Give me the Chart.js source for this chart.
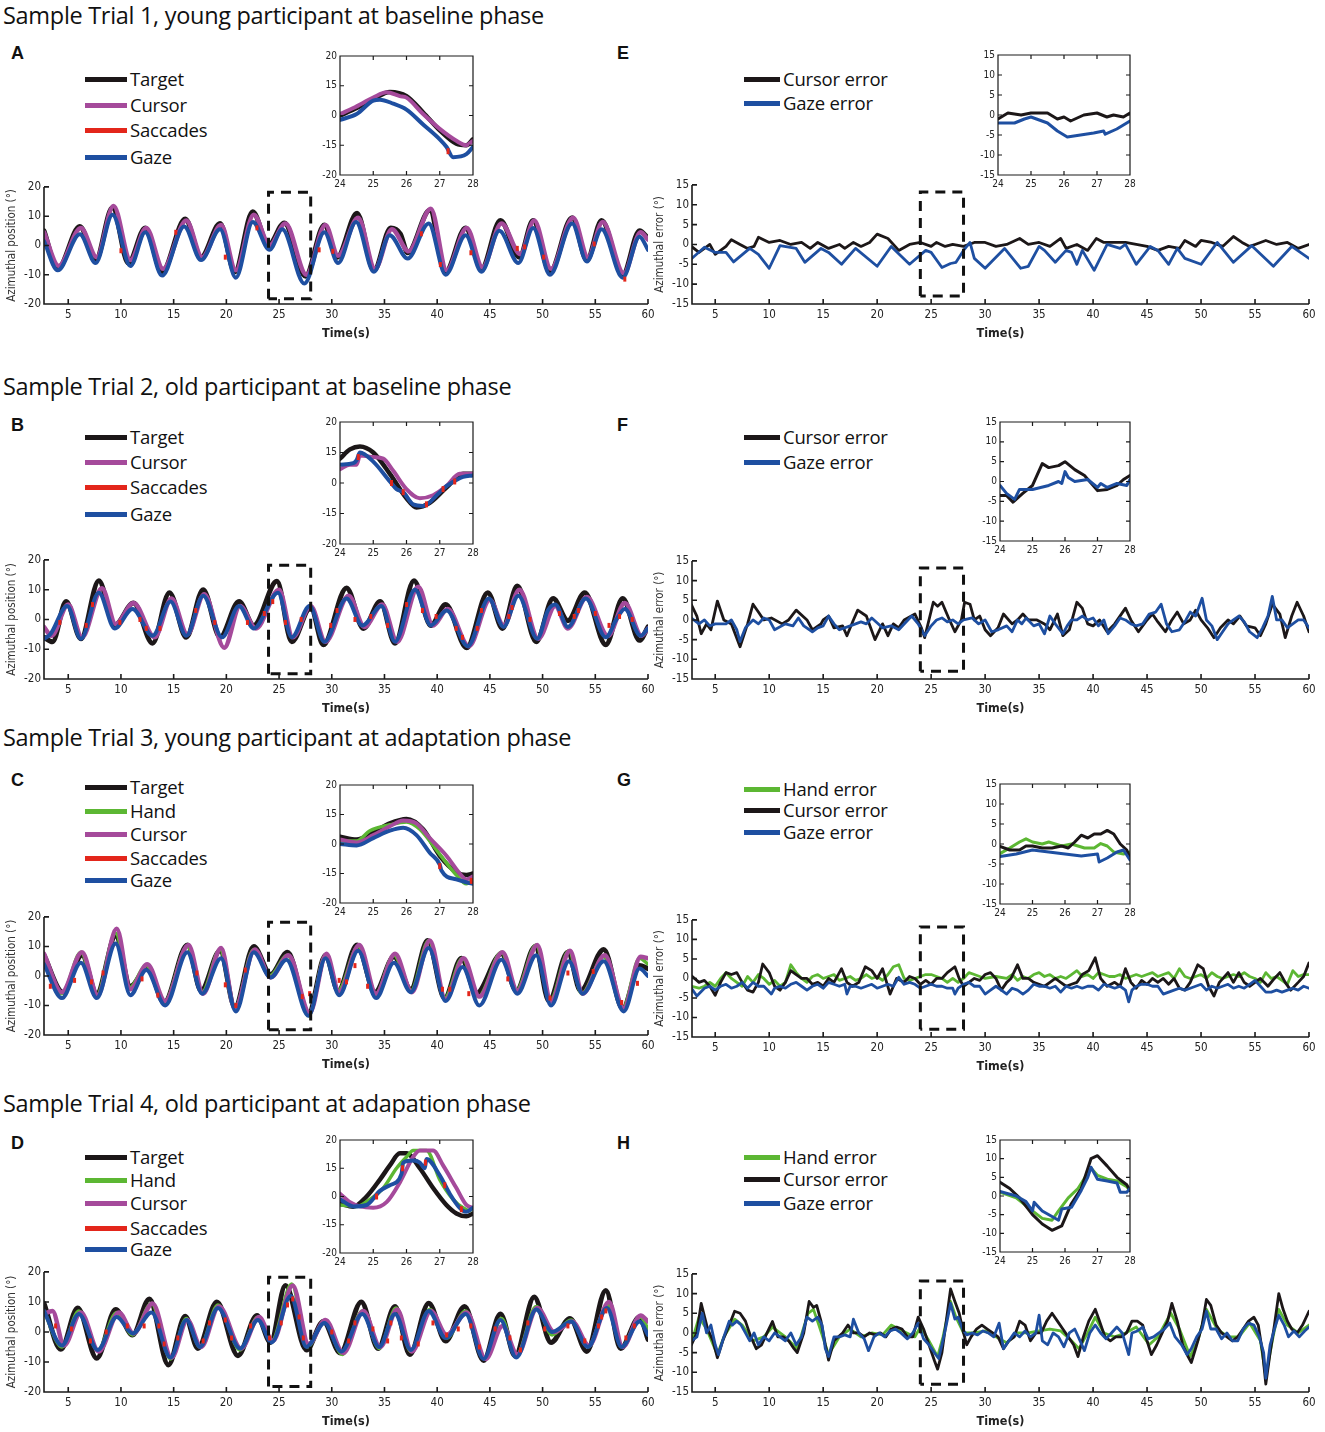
<!DOCTYPE html>
<html>
<head>
<meta charset="utf-8">
<script src="https://cdn.jsdelivr.net/npm/chart.js@4.4.1/dist/chart.umd.min.js"></script>
<style>
  body { margin: 0; background: #fff; }
  #page { position: relative; width: 1325px; height: 1432px; overflow: hidden; font-family: 'Open Sans', sans-serif; color: #111; }
  .t { position: absolute; white-space: nowrap; }
  .title { font-size: 23.5px; line-height: 30px; left: 3px; letter-spacing: -0.3px; }
  .letter { font-family: 'Liberation Sans', Arial, sans-serif; font-weight: bold; font-size: 18px; line-height: 20px; }
  .lg { font-size: 18.5px; line-height: 24px; letter-spacing: -0.2px; }
  .sw { position: absolute; height: 5px; }
  .box { position: absolute; }
</style>
</head>
<body>
<div id="page"></div>
<script>
// ---- axis ticks ----
const X_TICKS_MAIN = [5, 10, 15, 20, 25, 30, 35, 40, 45, 50, 55, 60];
const Y_TICKS_POS = [-20, -10, 0, 10, 20];
const Y_TICKS_ERR = [-15, -10, -5, 0, 5, 10, 15];
const X_TICKS_INSET = [24, 25, 26, 27, 28];
const INSET_POS_TICKS = [-20, -10, 0, 10, 20];
const INSET_POS_LABELS = ['-20', '-15', '0', '15', '20'];

const TITLES = [
  'Sample Trial 1, young participant at baseline phase',
  'Sample Trial 2, old participant at baseline phase',
  'Sample Trial 3, young participant at adaptation phase',
  'Sample Trial 4, old participant at adapation phase'
];
const LEG_POS4 = ['Target', 'Cursor', 'Saccades', 'Gaze'];
const LEG_POS5 = ['Target', 'Hand', 'Cursor', 'Saccades', 'Gaze'];
const LEG_ERR2 = ['Cursor error', 'Gaze error'];
const LEG_ERR3 = ['Hand error', 'Cursor error', 'Gaze error'];

// dashed zoom window
const ZOOM_BOX_POS = [[24, -18.2], [24, 18.2], [28, 18.2], [28, -18.2], [24, -18.2]];
const ZOOM_BOX_ERR = [[24, -13], [24, 13.2], [28, 13.2], [28, -13], [24, -13]];

// ---- panel A ----
const A_TARGET = [[2.7,5],[4,-8],[6.1,6.5],[7.6,-5],[9.2,13],[10.7,-6],[12.3,6],[13.9,-9],[16.1,9],[17.6,-4],[19.4,7.5],[20.8,-9],[22.5,11.5],[24,0],[25.5,7.7],[27.5,-10.5],[29.3,7],[30.5,-4],[32.4,11],[34,-8.5],[35.6,6],[36.5,4],[37.2,-2.5],[39.3,12],[40.8,-9],[42.7,6],[44.2,-8],[46,8.5],[47.8,-4],[49.1,8.5],[50.7,-9],[52.8,9.5],[54.2,-5],[55.6,8.5],[57.6,-10],[59.2,5],[60,2.5]];
const A_CURSOR = [[2.7,4.5],[4.1,-7],[6.2,6],[7.7,-4],[9.3,13.5],[10.9,-5],[12.4,6],[14,-8],[16.2,8.5],[17.7,-4],[19.5,7],[20.9,-8.5],[22.6,10.5],[24.1,0],[25.6,7.5],[27.6,-10],[29.4,7],[30.6,-3.5],[32.5,9.5],[34.1,-8],[35.7,5.5],[37.3,-2],[39.4,12.5],[40.9,-8.5],[42.8,6],[44.3,-7.5],[46.1,7.5],[47.9,-3],[49.2,8.5],[50.8,-8],[52.9,9.5],[54.3,-4],[55.7,8],[57.7,-9.5],[59.3,4.5],[60,2]];
const A_GAZE = [[2.7,1.5],[4,-8.5],[6.1,3.8],[7.6,-6],[9.2,10.5],[10.9,-7],[12.3,4.5],[13.9,-10.3],[16,6.5],[17.6,-5],[19.4,5.5],[20.9,-11],[22.5,8],[24.1,-1.5],[25.3,5.5],[27.4,-13],[29.3,4.5],[30.6,-6],[32.3,8],[34,-9],[35.5,3.5],[37.2,-4.5],[39.2,7.5],[40.8,-10],[42.7,3.5],[44.2,-9],[45.9,5],[47.7,-6],[49.1,6],[50.7,-10],[52.8,7.5],[54.2,-5.5],[55.6,5.5],[57.6,-11],[59.2,3],[60,-1.5]];
const A_SACC = [[10,-1.8],[15.2,4.5],[19.9,-4],[22.9,6],[28.8,-1.5],[30.1,-2],[38.5,4],[40.3,-6.5],[43.2,-2.5],[47.6,-1],[48.3,-0.5],[50.1,-4],[54.9,0.5],[57.8,-11.5]];
const A_IN_TARGET = [[24,0],[24.5,2.5],[25,5.5],[25.5,7.9],[26,6.5],[26.5,1],[27,-5],[27.5,-9.5],[27.8,-10],[28,-8]];
const A_IN_CURSOR = [[24,0.5],[24.4,2.5],[25,6],[25.4,7.8],[25.8,6.5],[26,6],[26.5,0.5],[27,-4.5],[27.5,-8.5],[27.8,-10],[28,-8.5]];
const A_IN_GAZE = [[24,-1.5],[24.5,0.5],[25,5],[25.2,5.3],[25.6,4],[26,2],[26.5,-3],[27,-8],[27.2,-10.5],[27.4,-14],[27.8,-13],[28,-10.5]];
const A_IN_SACC = [[27.25,-12]];

// ---- panel E ----
const E_CURSOR = [[2.8,-0.5],[3.5,-2],[4.5,0],[5,-2.5],[6,-0.5],[6.5,1.2],[7.3,0],[8,-1],[8.6,-0.5],[9,1.8],[10,0.5],[11,1],[12,0],[13,0.5],[13.8,-1],[14.5,0.5],[15.5,-1],[16.5,0],[17,-1],[17.8,0.5],[18.5,-0.5],[19.3,0.5],[20,2.6],[21,1.5],[22,-1.5],[23,0],[24,0.5],[25,-0.5],[25.5,0.5],[26.3,-0.5],[27,0],[28,-0.5],[29,0.5],[30,0.5],[31,-0.5],[32,0],[33.2,1.5],[34,0],[35,0.5],[36,-0.5],[37,1.5],[37.5,-1],[38.5,0],[39.5,-1.5],[40.3,1.5],[41,0.5],[42,0.5],[43,0.5],[44,0],[45,-0.5],[46,-1.5],[47,-0.5],[48,-1],[48.5,1],[49.5,-0.5],[50,1],[51,0.5],[52,-0.5],[53,2],[53.8,0.5],[54.5,-0.5],[55,0],[56,1],[57,0],[58,0.5],[59,-1],[60,0]];
const E_GAZE = [[2.8,-3.6],[4,-0.7],[5,-2],[6,-2],[6.7,-4.4],[8.2,-1],[9,-2.5],[10,-6],[11,-0.3],[12.5,-1],[13.3,-4.5],[14.8,-1],[15.5,-2],[16.7,-5],[18,-1],[20,-5.5],[21.3,-0.5],[23,-5],[24.5,-1.5],[25,-2],[26,-5.8],[26.8,-4.8],[27.3,-4.5],[28,-1.5],[28.6,0.5],[29,-3.5],[30,-6],[31.8,-1],[33.3,-6],[34,-5.5],[35,-0.5],[35.5,-1.5],[36.5,-4.5],[37.5,-1.5],[38,-2],[38.5,-5],[39,-1.5],[40.1,-6.5],[41.3,0],[42.5,-1],[43,0],[44,-5],[45.3,-0.5],[46,-1.5],[47,-5],[47.8,-1],[48.5,-3.5],[50,-5],[51.5,0.5],[53,-4.5],[54.7,-0.3],[56.7,-5.5],[58.4,-0.5],[60,-3.5]];
const E_IN_CURSOR = [[24,-1],[24.3,0.5],[24.7,0],[25,0.5],[25.5,0.5],[25.8,-1],[26,-0.5],[26.2,-1.5],[26.6,0],[27,0.5],[27.3,-0.5],[27.5,0],[27.8,-0.5],[28,0.5]];
const E_IN_GAZE = [[24,-2],[24.5,-2],[24.8,-1],[25,-0.5],[25.5,-2],[25.8,-4],[26.1,-5.5],[26.5,-5],[26.9,-4.5],[27.2,-4],[27.25,-4.8],[27.6,-3.5],[28,-1.5]];

// ---- panel B ----
const B_TARGET = [[2.7,-6],[3.5,-7.5],[4.8,6],[6.2,-6.5],[7.9,13],[9.4,-2],[11.2,5.5],[13,-8],[14.6,9],[16.2,-6],[17.8,10],[19.4,-6],[21.2,6],[22.6,-2],[24.8,12.8],[26.2,-7.5],[28,4],[29.2,-8.5],[31.4,10.6],[33,-3],[34.6,6],[36,-8],[37.8,13],[39.4,-2],[40.8,5],[42.8,-9.5],[44.8,9],[46.2,-3],[47.6,11.2],[49.4,-7.5],[51,7],[52.4,-0.4],[54,9],[56,-8.5],[57.6,7],[59.2,-7],[60,-2.5]];
const B_CURSOR = [[2.7,-2.5],[3.4,-5.5],[5,5],[6.3,-6],[8.2,10.5],[9.5,-1.5],[11.2,5.5],[13.2,-6],[14.8,7],[16.3,-5],[17.9,8.5],[19.8,-9.5],[21.3,4.5],[22.8,-3],[25,10],[26.3,-6],[28,4.5],[29.4,-7.5],[31.6,8],[33.1,-2.5],[34.8,5],[36.2,-7.5],[38.2,11],[39.6,-2],[41,3.5],[43,-9],[45,6.5],[46.3,-2],[47.8,10],[49.6,-6.5],[51.2,4.5],[52.4,-3],[54.2,7.5],[56.2,-5.5],[57.8,5.5],[59.4,-5.5],[60,-3]];
const B_GAZE = [[2.7,-6.5],[3.3,-5],[4.9,4.5],[6.2,-6.5],[7.9,9],[9.4,-3],[11.1,3.5],[13,-5.5],[14.7,6],[16.2,-5.5],[17.8,8],[19.6,-6],[21.2,4.5],[22.6,-3],[24.9,9],[26.2,-6],[27.9,4.5],[29.3,-7.5],[31.4,7],[32.9,-2],[34.7,4.5],[36,-7.5],[37.9,10],[39.4,-2],[40.9,3],[42.9,-9],[44.9,7],[46.3,-2.5],[47.7,8],[49.5,-6.5],[50.5,3],[51.2,5],[52.4,-2.5],[54.1,7],[56,-6],[57,0],[57.8,3.5],[59.3,-5.5],[60,-3]];
const B_SACC = [[4.2,-1],[6.7,-2],[7.3,5],[9.9,-1],[11.8,0],[12.4,-3],[13.7,-3],[17.1,3],[18.9,-1],[22,-1],[23.6,2],[24.4,6],[25.6,-1],[27.1,0],[29.9,-2],[30.5,3],[32.2,0],[33.7,1],[35.3,-2],[37.1,5],[38.6,3],[39.9,1],[41.8,-3],[42.4,-6],[43.8,-3],[44.2,3],[46.8,1],[47.1,4],[48.8,0],[51.6,2],[53,1],[53.4,3],[55,2],[56.3,-2],[57.3,1],[58.5,0]];
const B_IN_TARGET = [[24,8],[24.3,11],[24.6,12],[25,10],[25.5,3],[26,-5],[26.3,-8],[26.7,-6.5],[27.2,-1.5],[27.7,3],[28,3]];
const B_IN_CURSOR = [[24,4.5],[24.3,6],[24.5,6],[24.6,9],[25,8.5],[25.3,8],[25.6,4],[26,-2],[26.4,-5],[26.8,-4],[27.2,-1],[27.6,3],[28,3]];
const B_IN_GAZE = [[24,6],[24.4,6.5],[24.5,7.5],[24.6,10],[25,7],[25.5,0.5],[25.7,-2],[25.9,-3],[26.2,-7],[26.5,-7.5],[27,-3],[27.2,-1],[27.5,1],[27.7,2],[28,2.5]];
const B_IN_SACC = [[24.55,8.5],[25.55,0],[25.9,-3],[26.6,-7],[27.1,-2],[27.45,0.5]];

// ---- panel F ----
const F_CURSOR = [[2.8,3.8],[3.3,1],[3.7,-3.5],[4.2,-1],[4.6,-2.5],[5.2,4.8],[5.8,0],[6.5,-1],[7.3,-6.8],[8,-1],[8.5,4],[9,2],[9.5,0],[10.2,0.5],[11.2,-1],[11.8,0],[12.5,2.5],[13.5,0],[14,-2.5],[14.8,-1],[15,0],[15.5,1],[16,-2],[16.8,-1.5],[17.2,-4],[17.8,0],[18.2,2.5],[19,1],[19.8,-5],[20.5,-1],[21,-4],[21.5,-1],[22,-2],[22.5,0],[23.5,1.5],[24.1,-2],[24.4,-4.5],[25.2,4.5],[25.6,3.5],[26,4.5],[26.7,0],[27.2,-3],[27.8,0],[28.1,4.5],[28.6,4],[29,0],[29.5,1],[30,-2.5],[30.5,-4],[31.2,-2],[31.7,1.5],[32.5,-1],[33,0],[33.5,1.5],[34,0],[34.8,0],[35.5,-1],[36,-2.5],[36.7,1.5],[37.2,-4],[37.8,-2.5],[38.5,4.5],[39,3],[39.5,-1],[40,-1.5],[40.6,0],[41.3,-3],[42,-1],[43,3],[43.5,0],[44.2,-3],[45,0],[45.5,1.5],[46,-0.5],[46.7,-3],[47.3,0],[47.8,2],[48.4,-1],[49,0],[49.5,2.5],[50,0],[50.6,-2],[51.2,-4.5],[51.8,-2],[52.5,0],[53,-1],[53.6,1],[54.2,-1.5],[55,-2],[55.5,-4],[56,-1],[56.6,4],[57.3,1.5],[57.8,-4.5],[58.4,1],[58.9,4.5],[59.5,1],[60,-3]];
const F_GAZE = [[2.8,0.5],[3.5,-1],[4,0],[4.5,-1.5],[5,-1],[6,-1],[6.5,0],[7,-2.5],[7.3,-5.5],[7.8,-2],[8.5,0],[9,-1],[9.5,0.5],[10,0],[10.5,-2.5],[11.5,-1],[12.2,-1.5],[12.7,0.5],[13.2,-1.5],[14,-3],[14.5,-2],[15,-1.5],[15.5,1],[16,-1],[16.5,-2.5],[17.5,-1.5],[18.5,-0.5],[19,-1],[19.5,0.5],[20.5,-2],[21.3,-1.5],[22,-2.5],[23.2,1],[23.8,-1],[24.4,-4],[25,-1.5],[25.5,0],[26,0.5],[26.5,-0.5],[27,0],[27.5,-1],[28,0],[28.8,0.5],[29.4,-1],[30,0],[30.6,-3],[31.2,-2.5],[32,-1.5],[32.5,-3],[33,0],[33.4,-1],[33.8,0.5],[34.5,-1.5],[35,-1],[35.5,-3.5],[36,1],[36.5,-1],[37.2,-3.5],[37.6,-1.5],[38,0],[38.5,0],[39,1],[39.5,0],[40,0.5],[40.5,-1.5],[41,0],[41.4,-3.5],[42,-1.5],[42.5,0.5],[43,0],[43.5,-1],[44,-1.5],[44.6,-1],[45.2,1.5],[45.8,2],[46.3,4],[46.8,-1],[47.3,-3],[48,-2.5],[48.6,0],[49,2],[49.5,1],[50.1,5.5],[50.5,0],[51,-1.5],[51.5,-5],[52,-3],[52.5,-1],[53,0],[53.5,1],[54,-0.5],[54.5,-3],[55.2,-4.5],[55.7,-2],[56.2,1],[56.6,6],[57,0],[57.5,0],[58,-2],[58.5,-1],[59,0],[59.5,0],[60,-2]];
const F_IN_CURSOR = [[24,-3.5],[24.2,-3.5],[24.4,-5.2],[24.7,-3],[25,-1],[25.3,4.5],[25.5,3.5],[25.8,4],[26,5],[26.3,3],[26.6,1.5],[27,-2.3],[27.3,-2],[27.6,-1],[27.8,0.5],[28,1.5]];
const F_IN_GAZE = [[24,-1],[24.2,-3],[24.45,-4.5],[24.6,-2],[25,-2],[25.5,-1],[25.8,0],[25.9,-0.5],[26,2.5],[26.1,1],[26.3,0],[26.7,0.5],[27,-1.5],[27.1,-0.5],[27.3,-1.5],[27.6,-0.5],[27.9,-1],[28,0.5]];

// ---- panel C ----
const C_TARGET = [[2.7,7],[4.5,-5.5],[6.3,7],[7.7,-6],[9.5,13.5],[10.9,-3.5],[12.5,3],[14.1,-9],[16.3,10.5],[17.6,-5],[19.4,8.5],[20.8,-10.5],[22.6,10],[24.2,0.5],[25.8,8],[27.8,-12.5],[29.4,7],[30.6,-5],[32.4,10.5],[34.1,-5.5],[35.9,6.5],[37.5,-4.5],[39.1,12],[40.7,-7.5],[42.3,6],[43.7,-6],[46.1,7.5],[47.5,-5],[49.3,10],[50.6,-8.5],[52.4,8],[53.6,-5],[55.8,9],[57.6,-11],[59.2,3.5],[60,2.5]];
const C_HAND = [[2.7,6],[4.4,-6],[6.2,8],[7.7,-6.5],[9.5,14.5],[10.8,-4],[12.4,3.5],[14.1,-9],[16.3,10],[17.7,-5.5],[19.4,9],[20.8,-11],[22.6,9],[24.1,0],[25.8,7],[27.8,-13.5],[29.4,7],[30.6,-5],[32.5,10],[34.1,-6.5],[35.9,7],[37.5,-5],[39.2,12],[40.7,-7.5],[42.4,6],[43.9,-7],[46.1,8],[47.5,-5],[49.4,10.5],[50.7,-8.5],[52.5,8.5],[53.7,-6],[55.8,6.5],[57.6,-11],[59.2,6],[60,4]];
const C_CURSOR = [[2.7,7.5],[4.4,-5.5],[6.3,8],[7.8,-6.5],[9.6,16],[10.9,-4.5],[12.5,4],[14.2,-8.5],[16.4,10.5],[17.8,-6],[19.5,9.5],[20.8,-11],[22.7,9],[24.2,-0.5],[25.9,7],[27.9,-12.5],[29.5,7.5],[30.7,-5.5],[32.6,10.5],[34.2,-6],[36,7.5],[37.6,-5.5],[39.3,12],[40.8,-8],[42.5,6],[44,-7],[46.2,8],[47.6,-5],[49.5,10.5],[50.8,-8.5],[52.6,8.5],[53.8,-6],[55.9,7],[57.7,-11],[59.3,6.5],[60,6]];
const C_GAZE = [[2.7,4],[4.4,-7.5],[6.2,4.5],[7.7,-7.5],[9.5,11],[10.9,-6.5],[12.4,2],[14.2,-10],[16.3,8],[17.7,-6],[19.5,6],[20.9,-12],[22.6,8],[24.2,-0.5],[25.7,5.5],[27.8,-13.5],[29.4,6],[30.7,-6.5],[32.5,8.5],[34.2,-7.5],[35.9,4.5],[37.5,-5.5],[39.2,9.5],[40.8,-8.5],[42.4,3],[44,-10],[46.1,5.5],[47.6,-6],[49.4,7],[50.8,-10],[52.5,5],[53.8,-6],[55.8,5],[57.7,-12],[59.2,2.5],[60,0]];
const C_SACC = [[3.3,-3.5],[5.6,-1.5],[7.2,-2],[8.3,1],[12,-1],[13.5,-6.5],[17.2,1],[19.9,-3],[20.9,-10],[21.8,2],[27.2,-7],[27.9,-6],[30.7,-1.5],[31.4,-2],[32.2,3.5],[33.4,-3.5],[40.5,-4.5],[41.2,-4.5],[43,-6],[46.7,-1],[50.7,-7.5],[52.4,1],[54.8,1.5],[57.5,-9],[59,-2.5]];
const C_IN_TARGET = [[24,2.5],[24.5,1.5],[25,4],[25.5,7],[26,8.5],[26.5,5],[27,-4],[27.5,-9.5],[27.8,-10.5],[28,-10]];
const C_IN_HAND = [[24,1],[24.5,1],[24.9,4.5],[25.5,6.5],[26,7.5],[26.4,5],[27,-3.5],[27.5,-10.5],[27.8,-13.5],[28,-12]];
const C_IN_CURSOR = [[24,1.5],[24.5,0.5],[25,3],[25.5,6],[25.9,8],[26.3,7],[26.7,2],[27.2,-4],[27.6,-10],[27.8,-12],[28,-11]];
const C_IN_GAZE = [[24,0],[24.5,-0.5],[25,2],[25.5,4.5],[25.9,5.5],[26.3,3],[26.7,-3],[27,-7],[27.05,-9],[27.5,-12],[27.8,-13],[28,-13.5]];
const C_IN_SACC = [[27,-7.5],[27.95,-12.5]];

// ---- panel G ----
const G_HAND = [[2.8,-2],[3.5,-2.5],[4,-2],[4.5,-1],[5,-2],[5.5,0],[6,1.5],[6.5,0],[7,-1],[7.5,-2],[8,0.5],[8.5,-1],[9,1],[9.5,0],[10,-1.5],[10.5,-0.5],[11,-2],[11.5,-1],[12,3.5],[12.5,1.5],[13,0],[13.5,-1],[14,0.5],[14.5,1],[15,0],[15.5,0.5],[16,1],[16.5,-0.5],[17,0],[17.5,0.5],[18,-0.5],[18.5,0],[19,1],[19.5,0],[20,0.5],[20.5,-0.5],[21,1],[21.5,3],[22,3.5],[22.5,0],[23,-0.5],[23.5,0],[24,0.5],[24.5,1],[25,1],[25.5,0.5],[26,0],[26.5,-1],[27,0],[27.5,-1],[28,0],[28.5,1.5],[29,1],[29.5,0.5],[30,0],[31,0.5],[32,0],[32.5,1],[33,-0.5],[33.5,0.5],[34,0],[34.5,1],[35,1.5],[35.5,0.5],[36,1],[36.5,0],[37,0.5],[37.5,0],[38,1],[38.5,2],[39,0.5],[39.5,1],[40,0],[40.5,1.5],[41,1],[41.5,0.5],[42,0.5],[42.5,1],[43,0],[43.5,0.5],[44,1],[44.5,0.5],[45,1],[45.5,1.5],[46,0.5],[46.5,1],[47,1.5],[47.5,0],[48,2.5],[48.5,0.5],[49,0],[49.5,0.5],[50,1],[50.5,0],[51,1.5],[51.5,0.5],[52,0],[53,1],[53.5,0.5],[54,1.5],[54.5,0.5],[55,0],[55.5,-1],[56,1.5],[56.5,0],[57,0.5],[57.5,-0.5],[58,-1.5],[58.5,2],[59,0.5],[59.5,1],[60,1]];
const G_CURSOR = [[2.8,0.7],[3.5,-1],[4,-0.5],[4.5,-2],[5,-4.3],[5.5,-1],[6,1.5],[6.5,1],[7,1.5],[7.5,-1],[8,-3],[8.5,-3.5],[9,-1],[9.4,3.7],[10,1.5],[10.5,-2],[11,-3],[11.5,-1],[12,2],[12.5,1],[13,0],[13.5,0],[14,-1.5],[14.5,-1],[15,-2],[15.5,0],[16,-1],[16.7,2.5],[17.2,-1],[17.7,-2],[18.3,-1],[18.9,3],[19.5,2],[20,0],[20.5,2.5],[21.2,-4],[21.8,0],[22.5,-1],[23,0.5],[23.5,0],[24,-1.5],[24.5,-0.5],[25,-1.5],[25.5,0],[26,0],[26.5,1.5],[27.2,3],[27.6,0],[28,-2],[28.5,-1],[29,0],[29.5,-0.5],[30,1],[30.5,1.5],[31,0],[31.5,-3],[32,-1],[32.4,0],[33,3.5],[33.5,0],[34,0],[34.5,-1],[35,-1.5],[35.5,-2],[36,-1],[36.5,0],[37,-1],[37.5,-2],[38,-1.5],[38.5,-1],[39,1],[39.6,2],[40.2,5.3],[40.7,0],[41.3,-2],[42,-1],[42.5,-2],[43,2.5],[43.5,-1],[44,-2.5],[44.5,-0.5],[45,-1.5],[45.5,0],[46,-1],[46.5,0],[47,-1.5],[47.5,0],[48,-2.5],[48.5,-3],[49,-1],[49.7,3.5],[50.2,2.5],[50.7,-2],[51.2,-4.5],[51.7,-1],[52.5,1.5],[53,-1],[53.5,1.5],[54,-1],[54.5,-2],[55,-1],[55.5,0],[56.2,-2],[56.8,0],[57.3,1.5],[57.8,-1],[58.3,-3],[59,-1],[59.5,0.5],[60,4]];
const G_GAZE = [[2.8,-2.5],[3.3,-4.5],[4,-2.5],[4.5,-2],[5,-3],[5.5,-2],[6,-1.5],[6.5,-2.5],[7,-2],[7.5,-1],[8,-2.5],[8.5,-1],[9,-2],[9.5,-2],[10.2,-4],[10.5,-2.5],[11,-2],[11.5,-2.5],[12,-1.5],[12.5,-1],[13,-2],[13.5,-3],[14,-2],[14.5,-1.5],[15,-2.5],[15.5,-1],[16,-1.5],[16.5,-2],[17,-1.5],[17.2,-4],[17.5,-2],[18,-2],[18.5,-2.5],[19,-2],[19.5,-1.5],[20,-2.5],[20.5,-2],[21,-1.5],[21.5,-2],[22,0.3],[22.5,-1.5],[23,-1],[23.5,-1.5],[24,-2.5],[24.5,-2],[25,-1.5],[25.5,-2],[26,-2],[26.5,-2.5],[27,-2.5],[27.2,-4],[27.5,-2.5],[28,-1.5],[28.5,-1],[29,-2],[29.5,-2],[30,-4],[30.5,-3],[31,-2],[31.5,-3],[32,-4],[32.5,-2.5],[33,-3],[33.5,-4],[34,-3],[34.5,-1.5],[35,-2],[35.5,-2],[36,-2.5],[36.5,-2],[37,-3.5],[37.5,-2],[38,-2.5],[38.5,-2],[39,-2.5],[39.5,-2],[40,-2],[40.5,-3],[41,-1.5],[41.5,-2],[42,-2.5],[42.5,-2],[43,-3],[43.3,-6],[43.6,-3],[44,-2],[44.5,-1.5],[45,-1.5],[45.5,-2],[46,-2],[46.5,-4],[47,-3.5],[47.5,-3],[48,-2.5],[48.5,-3],[49,-2.5],[49.5,-2],[50,-1.5],[50.5,-3],[51,-2],[51.5,-2.5],[52,-2],[52.5,-1.5],[53,-2.5],[53.5,-2],[54,-2.5],[54.5,-1.5],[55,-0.5],[55.5,-2],[56,-3.5],[56.5,-3.5],[57,-3],[57.5,-3.5],[58,-3],[58.5,-2.5],[59,-3],[59.5,-2],[60,-2.5]];
const G_IN_HAND = [[24,-2.4],[24.3,-1],[24.6,0.5],[24.8,1.3],[25,0.5],[25.3,0],[25.5,0.5],[25.7,0],[25.9,-0.5],[26.2,0],[26.4,-0.5],[26.6,-1],[26.9,-1],[27.1,0.1],[27.3,-0.5],[27.5,-2],[27.8,-2.5],[28,-2]];
const G_IN_CURSOR = [[24,-0.6],[24.3,-1.5],[24.6,-1.5],[24.8,-0.5],[25,-0.5],[25.3,-1],[25.6,-1],[25.9,-0.5],[26.1,-1],[26.3,0.5],[26.5,2.2],[26.7,1.5],[26.9,2.5],[27.1,2.5],[27.3,3.4],[27.5,2.5],[27.7,0],[27.9,-1.5],[28,-3.5]];
const G_IN_GAZE = [[24,-3.1],[24.5,-2.5],[25,-1.5],[25.5,-2],[26,-2.5],[26.5,-3],[27,-2.5],[27.05,-4.5],[27.3,-3.5],[27.6,-2],[27.8,-1.5],[28,-4]];

// ---- panel D ----
const D_TARGET = [[2.7,9.5],[4.3,-5.8],[5.9,8],[7.7,-8.8],[9.5,7.5],[11.1,-1],[12.7,11],[14.5,-11],[16.1,5.2],[17.3,-5.5],[19.1,10],[21.1,-7.9],[22.9,5.5],[24.2,-3.5],[25.6,15.5],[27.6,-6],[29.2,3.5],[30.8,-7],[32.8,10],[34.4,-5.5],[36,8.5],[37.4,-7.5],[39.2,9.6],[40.8,-3],[42.6,8.5],[44.4,-9.5],[46,6],[47.4,-8],[49.2,11.6],[50.8,-3.5],[52.6,4.5],[54.2,-6.5],[56,13.8],[57.4,-5.5],[59.2,5],[60,-2.5]];
const D_HAND = [[2.7,7],[4.4,-5],[6,7],[7.8,-6],[9.6,6.5],[11.1,-1],[12.9,9.5],[14.7,-9],[16.2,4.5],[17.5,-5],[19.2,9],[21.3,-6],[23,5],[24.3,-3],[26.2,16],[27.7,-5],[29.3,3.5],[31,-7.5],[32.9,7],[34.5,-5.5],[36.1,8],[37.5,-6.5],[39.3,7.5],[40.9,-2],[42.7,7],[44.5,-9],[46.1,4.5],[47.5,-8],[49.4,8.5],[50.9,-1],[52.7,4],[54.3,-5],[56.2,9],[57.5,-5],[59.3,5],[60,1]];
const D_CURSOR = [[2.7,6],[3.5,7],[4.6,-4.5],[6.2,6.5],[7.9,-6.5],[9.8,6.5],[11.2,-0.5],[13,9.5],[14.8,-8.5],[16.3,4],[17.6,-5],[19.3,8.5],[21.4,-5.5],[23.1,5],[24.4,-3],[26.3,15.5],[27.8,-4],[29.4,4],[31.1,-7],[33,7],[34.6,-5],[36.2,7.5],[37.6,-6.5],[39.4,7],[40.9,-1],[42.8,6.5],[44.6,-9],[46.2,2],[47.6,-7.5],[49.5,8],[51.1,0],[52.8,3.5],[54.4,-4.5],[56.3,10],[57.6,-5],[59.3,5.5],[60,3.5]];
const D_GAZE = [[2.7,7],[4.4,-4.5],[6,6],[7.8,-6],[9.6,5],[11.1,-0.5],[12.9,6.5],[14.7,-8.5],[16.2,4],[17.5,-5],[19.2,8],[21.3,-5.5],[23,4],[24.3,-3.5],[26.1,12],[27.6,-5],[29.3,3],[30.9,-6.5],[32.9,6],[34.5,-5],[36,6],[37.5,-6],[39.2,7],[40.8,-2],[42.7,6],[44.4,-9],[46,4],[47.5,-8.5],[49.4,7.5],[50.9,0],[52.7,3.5],[54.3,-5],[56.1,8],[57.5,-5],[59.2,3.5],[60,-1]];
const D_SACC = [[3.8,2],[5.3,1],[7.1,-3],[8.6,0],[10.6,2],[12.2,2],[13.6,2],[14.1,-4],[15.4,-2],[17.8,-3],[18.4,3],[19.9,4],[20.5,-2],[22.3,2],[24.1,-2],[25.2,3],[25.8,9],[26.3,11],[26.9,5],[27.3,-2],[30,0],[31.6,-3],[32.2,3],[33.9,1],[35.3,-3],[35.6,3],[36.6,-2],[38.2,-4],[39.6,3],[40.9,-1],[42,1],[43.2,2],[44,-5],[45.5,1],[46.9,-2],[47.9,-6],[48.6,3],[50.2,1],[52.4,2],[54,-3],[55.3,2],[55.6,5],[56,7],[57.9,-2],[58.7,2]];
const D_IN_TARGET = [[24,-2.5],[24.4,-3.6],[24.8,0],[25.2,6],[25.5,11],[25.8,15.3],[26,15.3],[26.4,10],[26.8,3],[27.2,-3],[27.5,-6],[27.8,-7],[28,-6]];
const D_IN_HAND = [[24,-3],[24.5,-3.5],[24.9,-1],[25.3,3],[25.7,10],[26,14],[26.2,16.3],[26.6,16.3],[27,6],[27.4,-1],[27.7,-4],[27.9,-5],[28,-4]];
const D_IN_CURSOR = [[24,1],[24.3,-2],[24.6,-3.5],[25,-4],[25.4,-2],[25.8,5],[26.2,14],[26.4,16.3],[26.8,16.3],[27.1,11],[27.5,3],[27.8,-3],[28,-4]];
const D_IN_GAZE = [[24,-1],[24.4,-3.5],[24.8,-3],[25.2,2],[25.5,4],[25.85,8],[25.9,12],[26.2,12.7],[26.4,12],[26.55,10],[26.6,13.3],[27,7.5],[27.3,1],[27.6,-4],[27.8,-5.4],[28,-4]];
const D_IN_SACC = [[25.1,0],[25.88,10],[26.57,12],[27.15,4],[27.65,-4.5]];

// ---- panel H ----
const H_HAND = [[2.8,-2.5],[3.5,4],[4.2,1],[5.2,-5.5],[5.8,-1],[6.8,3.5],[7.5,2],[8.5,-2],[9.5,-1],[10.3,1.5],[11.5,-1],[12.6,-4],[13.6,5],[14.1,6],[14.6,2],[15.5,-5.5],[16.5,-1],[17.5,1],[18.5,-1],[19.5,0],[20.5,-0.5],[21.3,2],[22,1],[23.5,-1],[24,1.5],[24.8,-2],[25.6,-6],[26.1,-1],[26.8,8],[27.3,4],[28,0],[29,0],[30,0.5],[31,-1],[32,-2.5],[33,0],[34,0],[35,0.5],[36,1],[37,0.5],[38,-2],[38.7,-4],[39.5,0],[40.2,4],[41,0],[42,-1],[43,0],[44,1.5],[45.2,-3],[46,-1],[47.2,5],[48,1],[49,-6],[49.7,-2],[50.5,6],[51.5,1],[52.5,-1],[53.5,-1],[54.5,2.5],[55.5,-2],[56,-11],[56.6,-2],[57.2,6],[58,2],[59,0],[60,2]];
const H_CURSOR = [[2.8,-3],[3.3,0],[3.7,7.5],[4.3,1],[4.8,-2],[5.2,-6.3],[5.7,-2],[6.3,2],[6.8,5.5],[7.3,5],[7.8,3],[8.3,-1],[8.8,-4],[9.3,-3],[9.8,0],[10.3,2.9],[10.8,-1],[11.3,-1],[11.8,-2],[12.3,-4],[12.6,-5],[13.2,0],[13.7,8],[14.1,6.5],[14.4,7],[14.8,3],[15.2,-3],[15.5,-6.9],[16,-2],[16.8,0],[17.3,2],[17.8,0],[18.3,0],[18.8,-1],[19.3,0],[19.8,-0.5],[20.3,0],[20.8,-1],[21.3,1],[21.8,1.5],[22.3,1],[22.8,-1],[23.3,-1],[23.8,4],[24.3,1],[24.8,-3],[25.3,-7],[25.6,-9.2],[26,-5],[26.4,3],[26.8,11.2],[27.2,8],[27.6,5],[28,0],[28.3,-3],[28.7,-1],[29.2,1],[29.7,2],[30.2,1],[30.7,0],[31.2,-1],[31.7,-4],[32.2,-2],[32.7,-1],[33.2,3],[33.7,2],[34.2,-2],[34.7,0],[35.2,0],[35.7,3],[36.2,5],[36.7,3],[37.2,1],[37.7,-1],[38.2,-3],[38.6,-6],[39.1,-1],[39.6,3],[40.2,6],[40.6,3],[41.1,-1],[41.6,-2],[42.1,-1],[42.6,-1],[43.1,0],[43.6,3],[44.1,3],[44.6,2],[45,-2],[45.4,-5.5],[45.9,-3],[46.4,0],[46.9,3],[47.3,7.5],[47.8,3],[48.3,-3],[48.8,-6],[49.1,-7.5],[49.6,-3],[50.1,2],[50.5,8.5],[50.9,7],[51.4,2],[51.9,0],[52.4,-1],[52.9,-2],[53.4,-1],[53.9,1],[54.4,3],[54.9,4],[55.3,2],[55.7,-5],[56,-13],[56.4,-5],[56.8,2],[57.2,10],[57.6,6],[58,3],[58.4,1],[58.9,0],[59.4,2],[60,5.5]];
const H_GAZE = [[2.8,-2],[3.3,-1],[3.8,5],[4.2,0],[4.6,2],[5,-3],[5.3,-5.5],[5.8,-1],[6.3,3],[6.6,2],[7,3],[7.4,2],[7.8,0],[8.2,-2],[8.6,0],[9,-3],[9.5,-1],[10,-2],[10.5,0],[11,-1],[11.5,-2],[12,0],[12.5,-3],[13,-1],[13.5,4],[14,3],[14.5,4],[14.9,2],[15.2,-4],[15.5,-6],[16,-1],[16.5,-1],[17,-0.5],[17.5,-1],[17.8,3.5],[18.3,0],[18.8,-1.5],[19.2,-4.5],[19.7,-1],[20.2,0],[20.7,-1],[21.2,0.5],[21.7,1],[22.2,0],[22.8,-1.5],[23.3,0],[23.8,2.5],[24.3,-1.5],[24.8,-3],[25.3,-5],[25.7,-6.5],[26,-3],[26.4,2],[26.8,7.5],[27.2,3.5],[27.5,4],[27.9,1],[28.3,-0.5],[28.8,0],[29.3,-0.5],[29.8,0.5],[30.3,0],[30.8,-1],[31.3,2.5],[31.7,-4],[32.2,-2],[32.7,0],[33.2,-1],[33.7,0.5],[34.2,-1],[34.7,0],[35,4.5],[35.3,-2],[35.8,-3],[36.3,0],[36.8,-1],[37.3,-3.5],[37.8,0],[38.3,1],[38.8,-2],[39.2,-4.5],[39.7,0],[40.2,2],[40.7,0],[41.2,-1.5],[41.7,0],[42.2,1.5],[42.7,0],[43.3,-5.5],[43.6,0],[44.1,0.5],[44.6,1.5],[45.1,-1.5],[45.6,-1],[46.1,0],[46.6,1],[47.1,2.5],[47.6,-1],[48.2,-3],[48.7,-5.5],[49.1,-4],[49.6,-1],[50.1,1],[50.5,5.5],[50.9,1],[51.4,1],[51.9,-1.5],[52.4,0],[52.9,-2],[53.4,-2],[53.9,1],[54.4,2.5],[54.9,2],[55.4,-1],[55.8,-5],[56,-11.5],[56.4,-3],[56.8,1],[57.2,4.5],[57.7,2],[58.1,-1],[58.6,0.5],[59.1,-1],[59.6,0.5],[60,1.5]];
const H_IN_HAND = [[24,1],[24.5,-0.5],[25,-4],[25.3,-6],[25.6,-6.5],[25.8,-4],[26.1,-0.5],[26.4,2],[26.8,7.5],[27,5.5],[27.3,4.5],[27.6,4],[27.9,2.5],[28,1.5]];
const H_IN_CURSOR = [[24,3.7],[24.3,2],[24.6,-0.5],[25,-5],[25.3,-7.5],[25.6,-9.2],[25.9,-8],[26.2,-2],[26.5,2],[26.8,10],[27,10.8],[27.3,8],[27.6,5],[27.9,3],[28,1.5]];
const H_IN_GAZE = [[24,1.2],[24.5,0],[24.8,-1.5],[25,-4],[25.05,-1.7],[25.3,-4],[25.6,-5.5],[25.8,-6.5],[25.9,-3.5],[26.2,-3],[26.5,1.5],[26.7,5],[26.8,7.7],[27,4.5],[27.3,4],[27.6,3.5],[27.7,1],[27.9,1],[28,2]];

// ---- styles & page layout ----
const STYLE = {
  'Target':       { color: '#1c1718', main: 5, inset: 4.5 },
  'Hand':         { color: '#5cb733', main: 3.5, inset: 3.5 },
  'Cursor':       { color: '#a54a9b', main: 4.5, inset: 4 },
  'Saccades':     { color: '#e3261b' },
  'Gaze':         { color: '#1e4fa1', main: 4, inset: 4 },
  'Hand error':   { color: '#5cb733', main: 2.8, inset: 3 },
  'Cursor error': { color: '#1c1718', main: 2.8, inset: 3 },
  'Gaze error':   { color: '#1e4fa1', main: 2.8, inset: 3 }
};

const ROWS = [
  { title: 15,   letter: 53,   legL: [79, 105, 130, 157],         legR: [79, 103],
    insL: [340, 55, 473, 175],   insR: [998, 54, 1130, 175],   mainL: [44, 185, 648, 304],   mainR: [692, 183, 1309, 304] },
  { title: 386,  letter: 425,  legL: [437, 462, 487, 514],        legR: [437, 462],
    insL: [340, 421, 473, 544],  insR: [1000, 421, 1130, 541], mainL: [44, 558, 648, 679],   mainR: [692, 559, 1309, 679] },
  { title: 737,  letter: 780,  legL: [787, 811, 834, 858, 880],   legR: [789, 810, 832],
    insL: [340, 784, 473, 903],  insR: [1000, 783, 1130, 904], mainL: [44, 915, 648, 1035],  mainR: [692, 918, 1309, 1037] },
  { title: 1103, letter: 1143, legL: [1157, 1180, 1203, 1228, 1249], legR: [1157, 1179, 1203],
    insL: [340, 1139, 473, 1253], insR: [1000, 1139, 1130, 1252], mainL: [44, 1270, 648, 1392], mainR: [692, 1272, 1309, 1392] }
];

const PANELS = [
  { row: 0, side: 'L', letter: 'A', kind: 'pos', legend: LEG_POS4,
    main: [['Target', A_TARGET], ['Cursor', A_CURSOR], ['Gaze', A_GAZE]], sacc: A_SACC,
    inset: [['Target', A_IN_TARGET], ['Cursor', A_IN_CURSOR], ['Gaze', A_IN_GAZE]], insetSacc: A_IN_SACC },
  { row: 0, side: 'R', letter: 'E', kind: 'err', legend: LEG_ERR2,
    main: [['Cursor error', E_CURSOR], ['Gaze error', E_GAZE]],
    inset: [['Cursor error', E_IN_CURSOR], ['Gaze error', E_IN_GAZE]] },
  { row: 1, side: 'L', letter: 'B', kind: 'pos', legend: LEG_POS4,
    main: [['Target', B_TARGET], ['Cursor', B_CURSOR], ['Gaze', B_GAZE]], sacc: B_SACC,
    inset: [['Target', B_IN_TARGET], ['Cursor', B_IN_CURSOR], ['Gaze', B_IN_GAZE]], insetSacc: B_IN_SACC },
  { row: 1, side: 'R', letter: 'F', kind: 'err', legend: LEG_ERR2,
    main: [['Cursor error', F_CURSOR], ['Gaze error', F_GAZE]],
    inset: [['Cursor error', F_IN_CURSOR], ['Gaze error', F_IN_GAZE]] },
  { row: 2, side: 'L', letter: 'C', kind: 'pos', legend: LEG_POS5,
    main: [['Target', C_TARGET], ['Hand', C_HAND], ['Cursor', C_CURSOR], ['Gaze', C_GAZE]], sacc: C_SACC,
    inset: [['Target', C_IN_TARGET], ['Hand', C_IN_HAND], ['Cursor', C_IN_CURSOR], ['Gaze', C_IN_GAZE]], insetSacc: C_IN_SACC },
  { row: 2, side: 'R', letter: 'G', kind: 'err', legend: LEG_ERR3,
    main: [['Hand error', G_HAND], ['Cursor error', G_CURSOR], ['Gaze error', G_GAZE]],
    inset: [['Hand error', G_IN_HAND], ['Cursor error', G_IN_CURSOR], ['Gaze error', G_IN_GAZE]] },
  { row: 3, side: 'L', letter: 'D', kind: 'pos', legend: LEG_POS5,
    main: [['Target', D_TARGET], ['Hand', D_HAND], ['Cursor', D_CURSOR], ['Gaze', D_GAZE]], sacc: D_SACC,
    inset: [['Target', D_IN_TARGET], ['Hand', D_IN_HAND], ['Cursor', D_IN_CURSOR], ['Gaze', D_IN_GAZE]], insetSacc: D_IN_SACC },
  { row: 3, side: 'R', letter: 'H', kind: 'err', legend: LEG_ERR3,
    main: [['Hand error', H_HAND], ['Cursor error', H_CURSOR], ['Gaze error', H_GAZE]],
    inset: [['Hand error', H_IN_HAND], ['Cursor error', H_IN_CURSOR], ['Gaze error', H_IN_GAZE]] }
];

const TICK_FONT = "'Liberation Sans Narrow', 'DejaVu Sans Condensed', 'Liberation Sans', sans-serif";
const page = document.getElementById('page');

function addText(cls, text, x, yc, lh) {
  const d = document.createElement('div');
  d.className = 't ' + cls;
  d.textContent = text;
  d.style.left = x + 'px';
  d.style.top = (yc - lh / 2) + 'px';
  page.appendChild(d);
  return d;
}

// MATLAB-style axes: inward ticks, open (main) or boxed (inset)
const matlabAxes = {
  id: 'matlabAxes',
  afterDatasetsDraw(chart, args, opts) {
    const { ctx, chartArea: a } = chart;
    const xs = chart.scales.x, ys = chart.scales.y;
    const len = opts.len;
    ctx.save();
    ctx.strokeStyle = '#1a1a1a';
    ctx.lineWidth = opts.width;
    ctx.beginPath();
    if (opts.box) {
      ctx.rect(a.left, a.top, a.right - a.left, a.bottom - a.top);
    } else {
      ctx.moveTo(a.left, a.top);
      ctx.lineTo(a.left, a.bottom);
      ctx.lineTo(a.right, a.bottom);
    }
    xs.ticks.forEach(t => {
      const p = xs.getPixelForValue(t.value);
      ctx.moveTo(p, a.bottom); ctx.lineTo(p, a.bottom - len);
      if (opts.box) { ctx.moveTo(p, a.top); ctx.lineTo(p, a.top + len); }
    });
    ys.ticks.forEach(t => {
      const p = ys.getPixelForValue(t.value);
      ctx.moveTo(a.left, p); ctx.lineTo(a.left + len, p);
      if (opts.box) { ctx.moveTo(a.right, p); ctx.lineTo(a.right - len, p); }
    });
    ctx.stroke();
    ctx.restore();
  }
};

function toXY(pts) { return pts.map(([x, y]) => ({ x, y })); }

function makeChart(area, o) {
  const [l, t, r, b] = area;
  const YW = o.inset ? 24 : 44, XH = o.inset ? 20 : 38, PT = 8, PR = 14;
  const wrap = document.createElement('div');
  wrap.className = 'box';
  wrap.style.left = (l - YW) + 'px';
  wrap.style.top = (t - PT) + 'px';
  wrap.style.width = (r - l + YW + PR) + 'px';
  wrap.style.height = (b - t + PT + XH) + 'px';
  const cv = document.createElement('canvas');
  wrap.appendChild(cv);
  page.appendChild(wrap);

  const n = o.datasets.length;
  o.datasets.forEach((d, i) => { d.order = n - i; });

  new Chart(cv, {
    type: 'line',
    data: { datasets: o.datasets },
    plugins: [matlabAxes],
    options: {
      responsive: true, maintainAspectRatio: false, animation: false, events: [],
      layout: { padding: { top: PT, right: PR, left: 0, bottom: 0 } },
      plugins: {
        legend: { display: false }, tooltip: { enabled: false },
        matlabAxes: { box: !!o.inset, len: o.inset ? 4 : 5, width: o.inset ? 1.2 : 1.6 }
      },
      scales: {
        x: {
          type: 'linear', min: o.xMin, max: o.xMax,
          grid: { display: false, drawTicks: false }, border: { display: false },
          afterBuildTicks: s => { s.ticks = o.xTicks.map(v => ({ value: v })); },
          afterFit: s => { s.height = XH; },
          ticks: { autoSkip: false, maxRotation: 0, padding: o.inset ? 3 : 4, color: '#222',
                   font: { family: TICK_FONT, size: o.inset ? 10 : 11.5 } },
          title: o.inset ? { display: false } : { display: true, text: 'Time(s)', color: '#222',
                   font: { family: TICK_FONT, size: 12.5, weight: 'bold' }, padding: { top: 0, bottom: 1 } }
        },
        y: {
          type: 'linear', min: o.yTicks[0], max: o.yTicks[o.yTicks.length - 1],
          grid: { display: false, drawTicks: false }, border: { display: false },
          afterBuildTicks: s => { s.ticks = o.yTicks.map(v => ({ value: v })); },
          afterFit: s => { s.width = YW; },
          ticks: { autoSkip: false, padding: 3, color: '#222',
                   font: { family: TICK_FONT, size: o.inset ? 10 : 11.5 },
                   callback: o.yLabels ? (v => o.yLabels[o.yTicks.indexOf(v)]) : (v => String(v)) },
          title: o.inset ? { display: false } : { display: true, text: o.yTitle, color: '#333',
                   font: { family: TICK_FONT, size: 11.5 }, padding: { top: 5, bottom: 0 } }
        }
      }
    }
  });
}

function lineSet(name, pts, width, smooth) {
  return {
    data: toXY(pts), borderColor: STYLE[name].color, borderWidth: width,
    pointRadius: 0, fill: false,
    tension: smooth ? 0.4 : 0, cubicInterpolationMode: smooth ? 'monotone' : 'default',
    borderJoinStyle: 'round', borderCapStyle: 'round'
  };
}

function saccSet(pts, r) {
  return {
    data: toXY(pts), showLine: false, pointStyle: 'line', rotation: 90,
    pointRadius: r, pointBorderWidth: 3, borderColor: STYLE['Saccades'].color,
    pointBorderColor: STYLE['Saccades'].color
  };
}

function boxSet(pts) {
  return {
    data: toXY(pts), borderColor: '#111', borderWidth: 3, borderDash: [10, 7],
    pointRadius: 0, tension: 0, fill: false
  };
}

// ---- build the page ----
ROWS.forEach((row, i) => addText('title', TITLES[i], 3, row.title, 30));

PANELS.forEach(p => {
  const row = ROWS[p.row];
  const left = p.side === 'L';
  const pos = p.kind === 'pos';

  addText('letter', p.letter, left ? 11 : 617, row.letter, 20);

  // legend
  const legY = left ? row.legL : row.legR;
  const lx1 = left ? 85 : 744, lx2 = left ? 127 : 780, tx = left ? 130 : 783;
  p.legend.forEach((name, k) => {
    const sw = document.createElement('div');
    sw.className = 'sw';
    sw.style.left = lx1 + 'px';
    sw.style.width = (lx2 - lx1) + 'px';
    sw.style.top = (legY[k] - 2.5) + 'px';
    sw.style.background = STYLE[name].color;
    page.appendChild(sw);
    addText('lg', name, tx, legY[k], 24);
  });

  // main plot
  const mainSets = p.main.map(([name, pts]) => lineSet(name, pts, STYLE[name].main, pos));
  if (p.sacc) mainSets.push(saccSet(p.sacc, 2.5));
  mainSets.push(boxSet(pos ? ZOOM_BOX_POS : ZOOM_BOX_ERR));
  makeChart(left ? row.mainL : row.mainR, {
    inset: false, xMin: left ? 2.7 : 2.85, xMax: 60, xTicks: X_TICKS_MAIN,
    yTicks: pos ? Y_TICKS_POS : Y_TICKS_ERR,
    yTitle: pos ? 'Azimuthal position (°)' : 'Azimuthal error (°)',
    datasets: mainSets
  });

  // inset (zoom on 24-28 s)
  const insSets = p.inset.map(([name, pts]) => lineSet(name, pts, STYLE[name].inset, pos));
  if (p.insetSacc) insSets.push(saccSet(p.insetSacc, 3));
  makeChart(left ? row.insL : row.insR, {
    inset: true, xMin: 24, xMax: 28, xTicks: X_TICKS_INSET,
    yTicks: pos ? INSET_POS_TICKS : Y_TICKS_ERR,
    yLabels: pos ? INSET_POS_LABELS : null,
    datasets: insSets
  });
});
</script>
</body>
</html>
